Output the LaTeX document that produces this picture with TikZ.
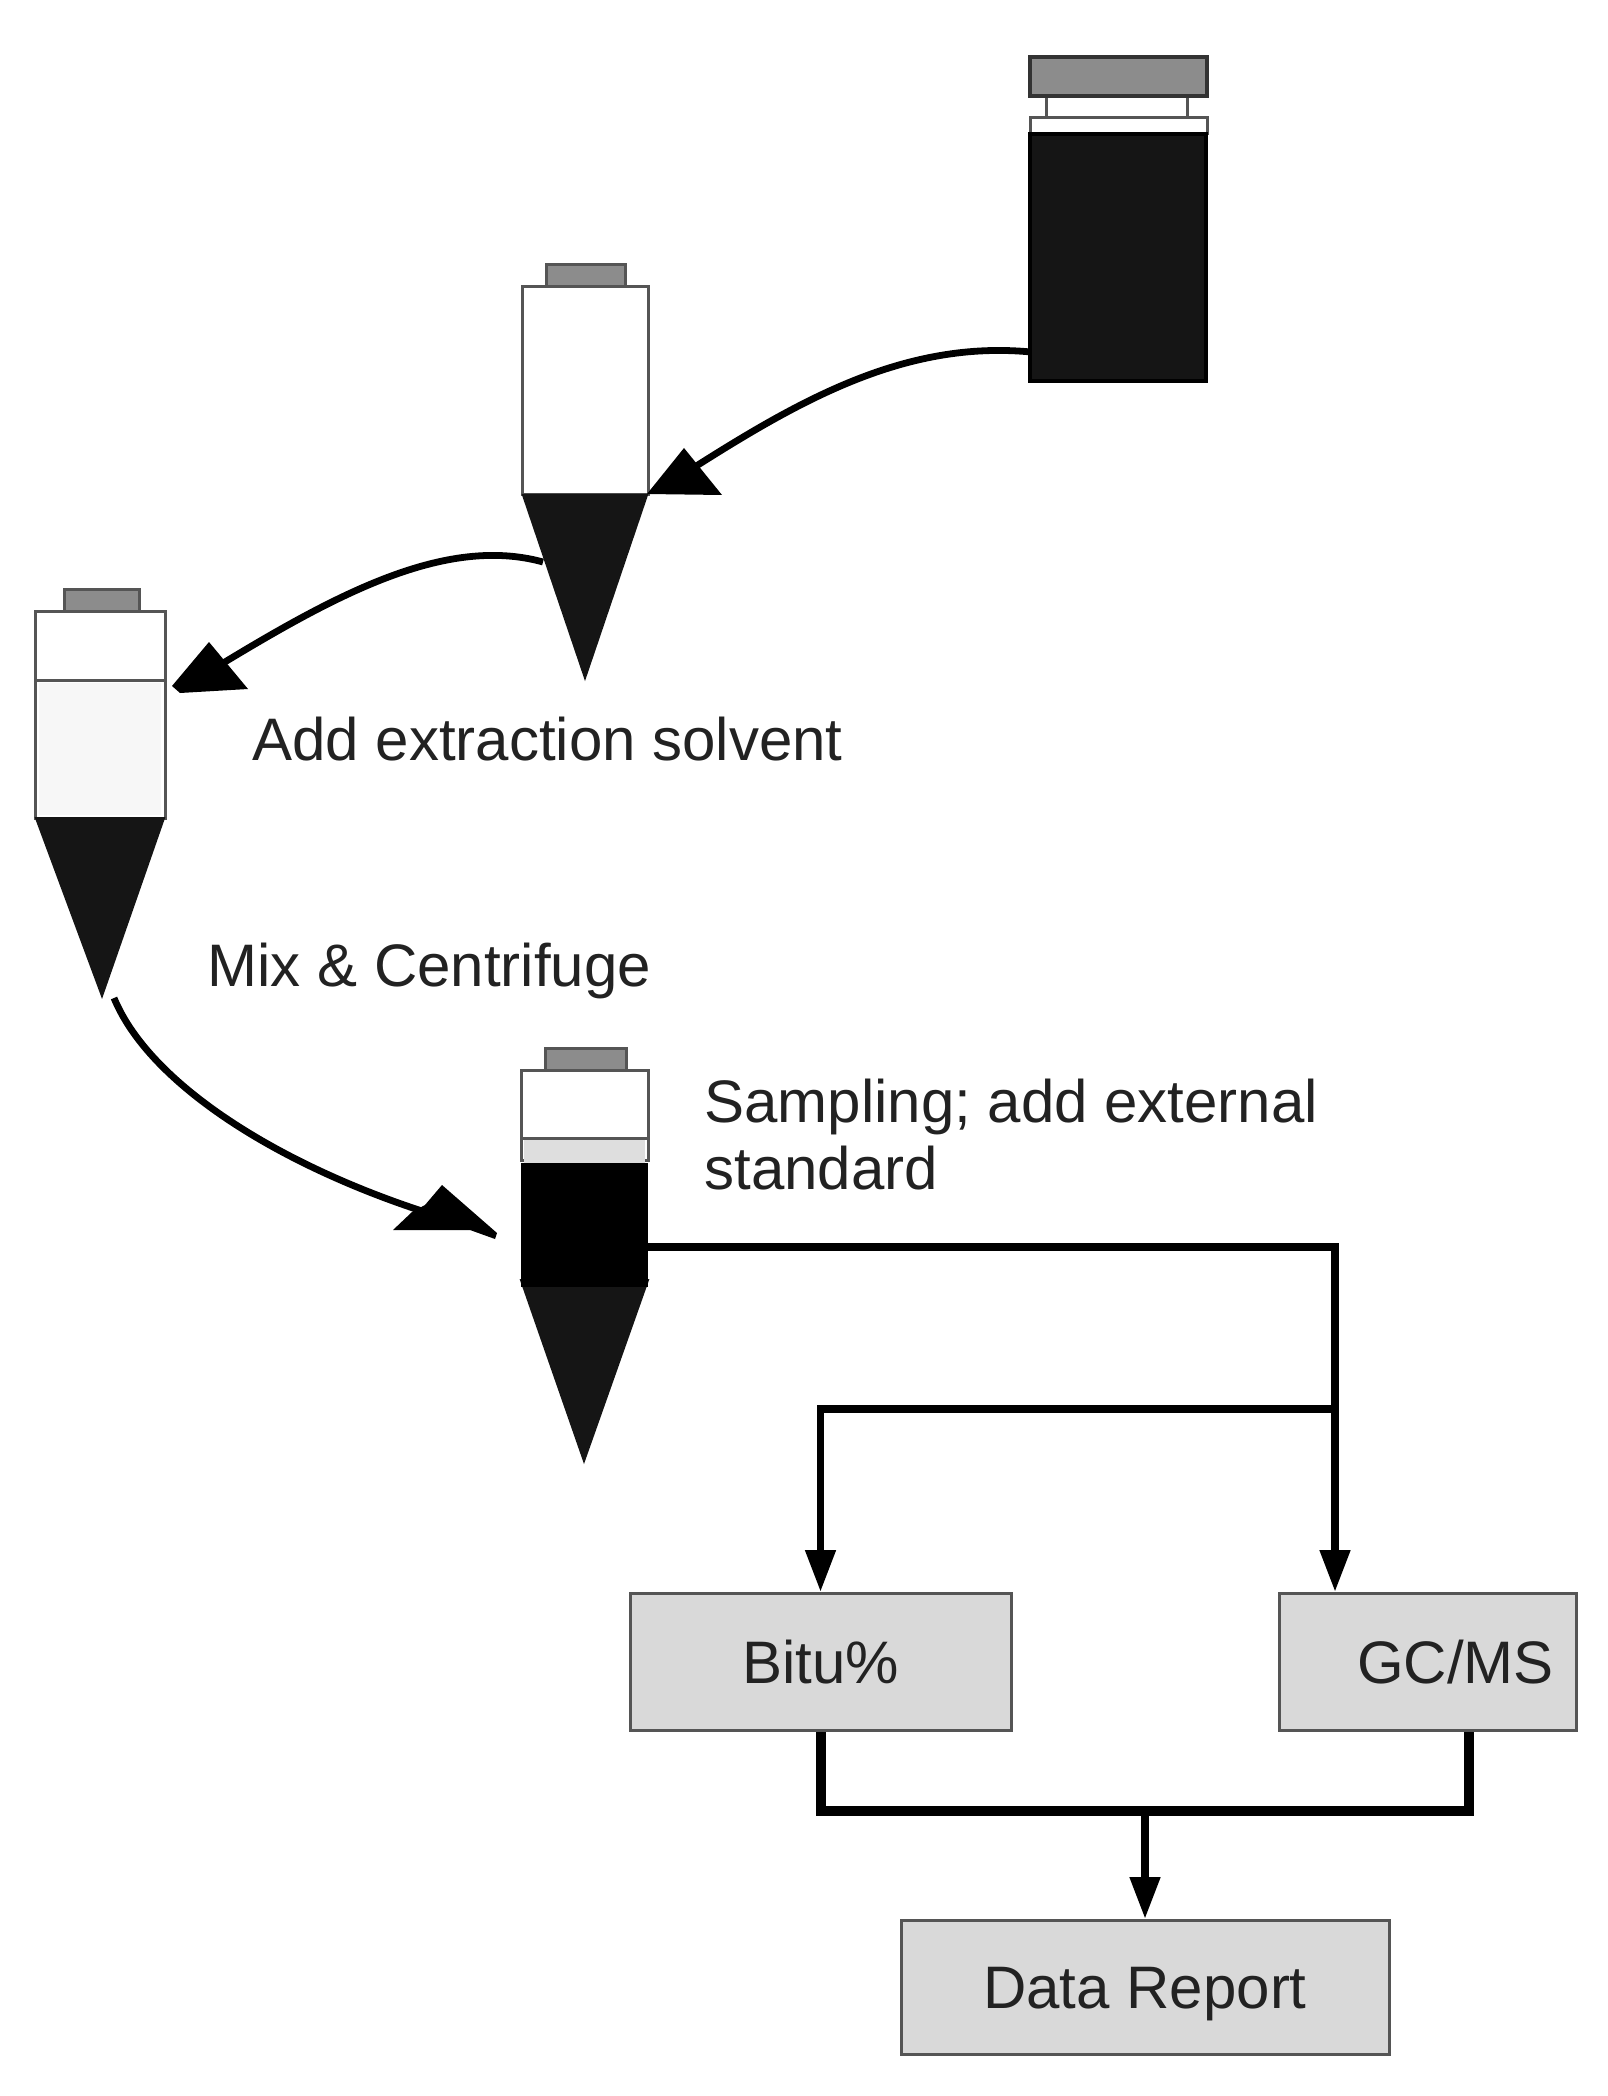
\documentclass[tikz,border=0pt]{standalone}
\usepackage{fontspec}
\setmainfont{Liberation Sans}
\usetikzlibrary{arrows.meta}
\definecolor{ink}{HTML}{151515}
\definecolor{rim}{HTML}{555555}
\definecolor{capgrey}{HTML}{8C8C8C}
\definecolor{boxgrey}{HTML}{D9D9D9}
\definecolor{txt}{HTML}{222222}
\tikzset{
  tube/.style={draw=rim,line width=1.5pt,fill=white},
  capp/.style={draw=rim,line width=1.5pt,fill=capgrey},
  cone/.style={draw=ink,line width=1pt,fill=ink,line join=miter},
  lbl/.style={font=\fontsize{30}{33.5}\selectfont,text=txt,inner sep=0pt,anchor=west,align=left},
  box/.style={draw=rim,line width=1.5pt,fill=boxgrey,font=\fontsize{30}{34}\selectfont,text=txt,inner sep=0pt},
  curve/.style={draw=black,line width=3.4pt},
  arrowfill/.style={fill=black,line join=round},
  wire/.style={draw=black,line width=3.9pt},
  bus/.style={draw=black,line width=5pt,line join=miter},
  head/.style={-{Triangle[length=21pt,width=14.5pt]}}
}
\begin{document}
\begin{tikzpicture}[x=0.5pt,y=-0.5pt]
\useasboundingbox (0,0) rectangle (1607,2096);
% jar
\draw[tube] (1046,96) rectangle (1187,118);
\draw[tube] (1030,118) rectangle (1207,134);
\draw[capp,line width=2pt,draw=black!80] (1030,57) rectangle (1207,96);
\fill[ink,draw=black,line width=2pt] (1030,134) rectangle (1206,381);
% vial 2
\draw[capp] (546,265) rectangle (625,287);
\draw[tube] (522,287) rectangle (648,495);
\draw[cone] (523,495) -- (647,495) -- (585,678) -- cycle;
% vial 3
\draw[capp] (64,589) rectangle (139,611);
\draw[tube] (35,611) rectangle (165,818);
\fill[black!3] (39,683) rectangle (161,815);
\draw[draw=rim,line width=1.5pt] (35,680) -- (165,680);
\draw[cone] (36,818) -- (164,818) -- (102,996) -- cycle;
% vial 4
\draw[capp] (545,1048) rectangle (626,1070);
\draw[tube] (521,1070) rectangle (648,1160);
\fill[black!13] (524,1140) rectangle (645,1163);
\draw[draw=rim,line width=1.5pt] (521,1138) -- (648,1138);
\draw[cone] (521,1280) -- (648,1280) -- (584,1461) -- cycle;
\fill[black] (521,1163) rectangle (648,1287);
% curved arrows
\coordinate (jarout) at (1031,352);
\coordinate (v2in) at (690,470);
\coordinate (v2out) at (543,562);
\coordinate (v3in) at (215,668);
\coordinate (v3out) at (114,998);
\coordinate (v4in) at (425,1212);
\draw[curve] (jarout) .. controls (905,340) and (800,400) .. (v2in);
\draw[curve] (v2out) .. controls (445,535) and (335,595) .. (v3in);
\draw[curve] (v3out) .. controls (150,1085) and (280,1165) .. (v4in);
\fill[arrowfill] (647,494) -- (722,495) -- (684,448) -- cycle;
\fill[arrowfill] (172,686) -- (180,693) -- (248,689) -- (209,642) -- cycle;
\fill[arrowfill] (497,1233) -- (495,1239) -- (470,1230) -- (393,1230) -- (412,1212) -- (425,1205) -- (442,1185) -- cycle;
% labels
\node[lbl] (solvent) at (252,739) {Add extraction solvent};
\node[lbl] (mix) at (207,971) {Mix \& Centrifuge};
\node[lbl] (sampling) at (704,1135) {Sampling; add external\\standard};
% boxes
\node[box,minimum width=190.5pt,minimum height=68.5pt] (bitu) at (820.5,1662) {Bitu\%};
\node[box,minimum width=148.5pt,minimum height=68.5pt,text width=126.3pt,inner xsep=10pt,align=right] (gcms) at (1427.5,1662) {GC/MS};
\node[box,minimum width=244pt,minimum height=67pt,text depth=0pt] (data) at (1145,1987.5) {Data Report};
% connectors
\coordinate (v4out) at (648,1247);
\coordinate (tee) at (1335,1247);
\coordinate (split) at (1335,1409);
\coordinate (busr) at (1469,1811);
\coordinate (busm) at (1145,1811);
\draw[wire,head] (v4out) -- (tee) -- (gcms.north -| tee);
\draw[wire,head] (split) -| (bitu.north);
\draw[bus] (bitu.south) |- (busr) -- (gcms.south -| busr);
\draw[wire,head] (busm) -- (data.north);
\end{tikzpicture}
\end{document}
